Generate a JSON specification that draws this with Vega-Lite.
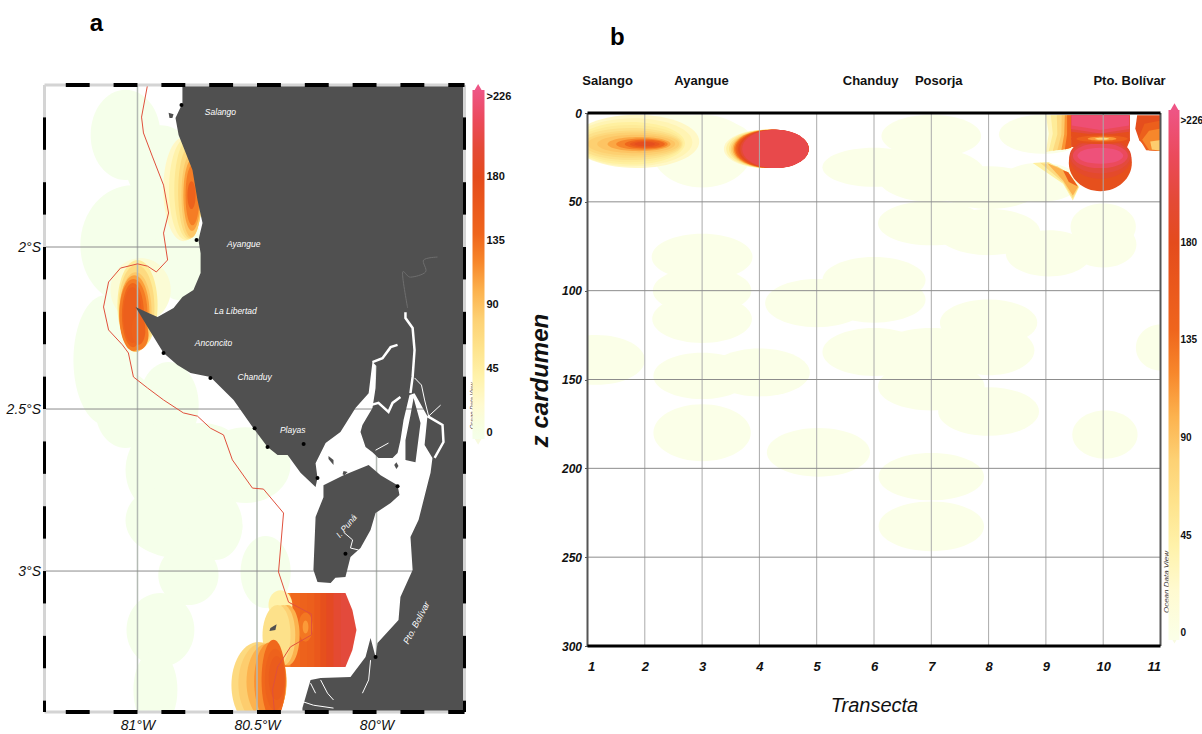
{"$schema":"https://vega.github.io/schema/vega-lite/v6.json","padding":{"left":5.5,"top":12,"right":0,"bottom":0},"background":"white","bounds":"flush","spacing":123,"config":{"view":{"stroke":null}},"resolve":{"scale":{"fill":"independent"},"legend":{"fill":"independent"}},
"datasets":{
"ap":[{"g":1,"x":-80.904,"y":-1.654},{"g":1,"x":-81.05,"y":-1.793},{"g":1,"x":-81.196,"y":-1.654},{"g":1,"x":-81.05,"y":-1.515},
{"g":2,"x":-80.803,"y":-1.994},{"g":2,"x":-81.021,"y":-2.179},{"g":2,"x":-81.239,"y":-1.994},{"g":2,"x":-81.021,"y":-1.809},
{"g":3,"x":-80.758,"y":-1.747},{"g":3,"x":-80.904,"y":-1.87},{"g":3,"x":-81.05,"y":-1.747},{"g":3,"x":-80.904,"y":-1.624},
{"g":4,"x":-80.723,"y":-2.025},{"g":4,"x":-80.828,"y":-2.164},{"g":4,"x":-80.933,"y":-2.025},{"g":4,"x":-80.828,"y":-1.886},
{"g":5,"x":-81.0,"y":-2.349},{"g":5,"x":-81.134,"y":-2.549},{"g":5,"x":-81.268,"y":-2.349},{"g":5,"x":-81.134,"y":-2.149},
{"g":6,"x":-80.744,"y":-2.488},{"g":6,"x":-80.87,"y":-2.621},{"g":6,"x":-80.996,"y":-2.488},{"g":6,"x":-80.87,"y":-2.355},
{"g":7,"x":-80.924,"y":-2.503},{"g":7,"x":-81.05,"y":-2.62},{"g":7,"x":-81.176,"y":-2.503},{"g":7,"x":-81.05,"y":-2.386},
{"g":8,"x":-80.716,"y":-2.688},{"g":8,"x":-80.883,"y":-2.827},{"g":8,"x":-81.05,"y":-2.688},{"g":8,"x":-80.883,"y":-2.549},
{"g":9,"x":-80.36,"y":-2.673},{"g":9,"x":-80.548,"y":-2.79},{"g":9,"x":-80.736,"y":-2.673},{"g":9,"x":-80.548,"y":-2.556},
{"g":10,"x":-80.527,"y":-2.673},{"g":10,"x":-80.736,"y":-2.803},{"g":10,"x":-80.945,"y":-2.673},{"g":10,"x":-80.736,"y":-2.543},
{"g":11,"x":-80.561,"y":-2.864},{"g":11,"x":-80.799,"y":-2.963},{"g":11,"x":-81.037,"y":-2.864},{"g":11,"x":-80.799,"y":-2.765},
{"g":16,"x":-80.758,"y":-2.843},{"g":16,"x":-80.904,"y":-2.942},{"g":16,"x":-81.05,"y":-2.843},{"g":16,"x":-80.904,"y":-2.744},
{"g":17,"x":-80.561,"y":-2.858},{"g":17,"x":-80.674,"y":-2.966},{"g":17,"x":-80.787,"y":-2.858},{"g":17,"x":-80.674,"y":-2.75},
{"g":12,"x":-80.661,"y":-3.012},{"g":12,"x":-80.787,"y":-3.105},{"g":12,"x":-80.913,"y":-3.012},{"g":12,"x":-80.787,"y":-2.919},
{"g":13,"x":-80.762,"y":-3.182},{"g":13,"x":-80.904,"y":-3.296},{"g":13,"x":-81.046,"y":-3.182},{"g":13,"x":-80.904,"y":-3.068},
{"g":14,"x":-80.833,"y":-3.367},{"g":14,"x":-80.925,"y":-3.49},{"g":14,"x":-81.017,"y":-3.367},{"g":14,"x":-80.925,"y":-3.244},
{"g":15,"x":-80.359,"y":-3.003},{"g":15,"x":-80.464,"y":-3.114},{"g":15,"x":-80.569,"y":-3.003},{"g":15,"x":-80.464,"y":-2.892}],
"astrip":[{"g":1,"v":122,"x":-80.389,"y":-3.068},{"g":1,"v":122,"x":-80.35,"y":-3.068},{"g":1,"v":122,"x":-80.35,"y":-3.296},{"g":1,"v":122,"x":-80.389,"y":-3.296},
{"g":2,"v":135,"x":-80.36,"y":-3.068},{"g":2,"v":135,"x":-80.31,"y":-3.068},{"g":2,"v":135,"x":-80.31,"y":-3.296},{"g":2,"v":135,"x":-80.36,"y":-3.296},
{"g":3,"v":145,"x":-80.32,"y":-3.068},{"g":3,"v":145,"x":-80.28,"y":-3.068},{"g":3,"v":145,"x":-80.28,"y":-3.296},{"g":3,"v":145,"x":-80.32,"y":-3.296},
{"g":4,"v":150,"x":-80.29,"y":-3.068},{"g":4,"v":150,"x":-80.25,"y":-3.068},{"g":4,"v":150,"x":-80.25,"y":-3.296},{"g":4,"v":150,"x":-80.29,"y":-3.296},
{"g":5,"v":160,"x":-80.26,"y":-3.068},{"g":5,"v":160,"x":-80.225,"y":-3.068},{"g":5,"v":160,"x":-80.225,"y":-3.296},{"g":5,"v":160,"x":-80.26,"y":-3.296},
{"g":6,"v":172,"x":-80.235,"y":-3.068},{"g":6,"v":172,"x":-80.2,"y":-3.068},{"g":6,"v":172,"x":-80.2,"y":-3.296},{"g":6,"v":172,"x":-80.235,"y":-3.296},
{"g":7,"v":184,"x":-80.21,"y":-3.068},{"g":7,"v":184,"x":-80.17,"y":-3.068},{"g":7,"v":184,"x":-80.17,"y":-3.296},{"g":7,"v":184,"x":-80.21,"y":-3.296},
{"g":8,"v":196,"x":-80.18,"y":-3.068},{"g":8,"v":196,"x":-80.14,"y":-3.068},{"g":8,"v":196,"x":-80.14,"y":-3.296},{"g":8,"v":196,"x":-80.18,"y":-3.296},
{"g":9,"v":205,"x":-80.15,"y":-3.068},{"g":9,"v":205,"x":-80.13,"y":-3.068},{"g":9,"v":205,"x":-80.101,"y":-3.12},{"g":9,"v":205,"x":-80.084,"y":-3.182},{"g":9,"v":205,"x":-80.101,"y":-3.244},{"g":9,"v":205,"x":-80.13,"y":-3.296},{"g":9,"v":205,"x":-80.15,"y":-3.296}],
"ah":[{"g":1,"v":15,"x":-80.861,"y":-2.133},{"g":1,"v":15,"x":-80.987,"y":-2.232},{"g":1,"v":15,"x":-81.113,"y":-2.133},{"g":1,"v":15,"x":-80.987,"y":-2.034},
{"g":2,"v":50,"x":-80.916,"y":-2.179},{"g":2,"v":50,"x":-81,"y":-2.318},{"g":2,"v":50,"x":-81.084,"y":-2.179},{"g":2,"v":50,"x":-81,"y":-2.04},
{"g":21,"v":70,"x":-80.929,"y":-2.188},{"g":21,"v":70,"x":-81.004,"y":-2.321},{"g":21,"v":70,"x":-81.079,"y":-2.188},{"g":21,"v":70,"x":-81.004,"y":-2.055},
{"g":3,"v":90,"x":-80.941,"y":-2.201},{"g":3,"v":90,"x":-81.008,"y":-2.324},{"g":3,"v":90,"x":-81.075,"y":-2.201},{"g":3,"v":90,"x":-81.008,"y":-2.078},
{"g":22,"v":108,"x":-80.95,"y":-2.204},{"g":22,"v":108,"x":-81.013,"y":-2.321},{"g":22,"v":108,"x":-81.076,"y":-2.204},{"g":22,"v":108,"x":-81.013,"y":-2.087},
{"g":4,"v":125,"x":-80.958,"y":-2.21},{"g":4,"v":125,"x":-81.017,"y":-2.321},{"g":4,"v":125,"x":-81.076,"y":-2.21},{"g":4,"v":125,"x":-81.017,"y":-2.099},
{"g":5,"v":125,"x":-80.954,"y":-2.272},{"g":5,"v":125,"x":-80.996,"y":-2.318},{"g":5,"v":125,"x":-81.038,"y":-2.272},{"g":5,"v":125,"x":-80.996,"y":-2.226},
{"g":23,"v":138,"x":-80.973,"y":-2.21},{"g":23,"v":138,"x":-81.019,"y":-2.309},{"g":23,"v":138,"x":-81.065,"y":-2.21},{"g":23,"v":138,"x":-81.019,"y":-2.111},
{"g":6,"v":150,"x":-80.983,"y":-2.21},{"g":6,"v":150,"x":-81.021,"y":-2.296},{"g":6,"v":150,"x":-81.059,"y":-2.21},{"g":6,"v":150,"x":-81.021,"y":-2.124},
{"g":7,"v":145,"x":-80.967,"y":-2.256},{"g":7,"v":145,"x":-80.996,"y":-2.302},{"g":7,"v":145,"x":-81.025,"y":-2.256},{"g":7,"v":145,"x":-80.996,"y":-2.21},
{"g":8,"v":25,"x":-80.724,"y":-1.822},{"g":8,"v":25,"x":-80.808,"y":-1.982},{"g":8,"v":25,"x":-80.892,"y":-1.822},{"g":8,"v":25,"x":-80.808,"y":-1.662},
{"g":24,"v":40,"x":-80.726,"y":-1.822},{"g":24,"v":40,"x":-80.797,"y":-1.979},{"g":24,"v":40,"x":-80.868,"y":-1.822},{"g":24,"v":40,"x":-80.797,"y":-1.665},
{"g":9,"v":55,"x":-80.728,"y":-1.822},{"g":9,"v":55,"x":-80.787,"y":-1.976},{"g":9,"v":55,"x":-80.846,"y":-1.822},{"g":9,"v":55,"x":-80.787,"y":-1.668},
{"g":25,"v":72,"x":-80.73,"y":-1.83},{"g":25,"v":72,"x":-80.78,"y":-1.973},{"g":25,"v":72,"x":-80.83,"y":-1.83},{"g":25,"v":72,"x":-80.78,"y":-1.687},
{"g":10,"v":90,"x":-80.732,"y":-1.84},{"g":10,"v":90,"x":-80.774,"y":-1.97},{"g":10,"v":90,"x":-80.816,"y":-1.84},{"g":10,"v":90,"x":-80.774,"y":-1.71},
{"g":26,"v":108,"x":-80.736,"y":-1.84},{"g":26,"v":108,"x":-80.772,"y":-1.95},{"g":26,"v":108,"x":-80.808,"y":-1.84},{"g":26,"v":108,"x":-80.772,"y":-1.73},
{"g":11,"v":125,"x":-80.741,"y":-1.84},{"g":11,"v":125,"x":-80.77,"y":-1.933},{"g":11,"v":125,"x":-80.799,"y":-1.84},{"g":11,"v":125,"x":-80.77,"y":-1.747},
{"g":12,"v":145,"x":-80.757,"y":-1.84},{"g":12,"v":145,"x":-80.774,"y":-1.883},{"g":12,"v":145,"x":-80.791,"y":-1.84},{"g":12,"v":145,"x":-80.774,"y":-1.797},
{"g":13,"v":128,"x":-80.267,"y":-3.173},{"g":13,"v":128,"x":-80.297,"y":-3.218},{"g":13,"v":128,"x":-80.327,"y":-3.173},{"g":13,"v":128,"x":-80.297,"y":-3.128},
{"g":14,"v":110,"x":-80.285,"y":-3.173},{"g":14,"v":110,"x":-80.297,"y":-3.193},{"g":14,"v":110,"x":-80.309,"y":-3.173},{"g":14,"v":110,"x":-80.297,"y":-3.153},
{"g":15,"v":40,"x":-80.352,"y":-3.105},{"g":15,"v":40,"x":-80.402,"y":-3.151},{"g":15,"v":40,"x":-80.452,"y":-3.105},{"g":15,"v":40,"x":-80.402,"y":-3.059},
{"g":27,"v":100,"x":-80.322,"y":-3.198},{"g":27,"v":100,"x":-80.372,"y":-3.291},{"g":27,"v":100,"x":-80.422,"y":-3.198},{"g":27,"v":100,"x":-80.372,"y":-3.105},
{"g":28,"v":80,"x":-80.34,"y":-3.198},{"g":28,"v":80,"x":-80.39,"y":-3.291},{"g":28,"v":80,"x":-80.44,"y":-3.198},{"g":28,"v":80,"x":-80.39,"y":-3.105},
{"g":16,"v":62,"x":-80.36,"y":-3.198},{"g":16,"v":62,"x":-80.414,"y":-3.291},{"g":16,"v":62,"x":-80.477,"y":-3.198},{"g":16,"v":62,"x":-80.414,"y":-3.105},
{"g":17,"v":70,"x":-80.381,"y":-3.352},{"g":17,"v":70,"x":-80.494,"y":-3.485},{"g":17,"v":70,"x":-80.607,"y":-3.352},{"g":17,"v":70,"x":-80.494,"y":-3.219},
{"g":29,"v":85,"x":-80.378,"y":-3.348},{"g":29,"v":85,"x":-80.478,"y":-3.47},{"g":29,"v":85,"x":-80.578,"y":-3.348},{"g":29,"v":85,"x":-80.478,"y":-3.222},
{"g":18,"v":100,"x":-80.376,"y":-3.342},{"g":18,"v":100,"x":-80.46,"y":-3.459},{"g":18,"v":100,"x":-80.544,"y":-3.342},{"g":18,"v":100,"x":-80.46,"y":-3.225},
{"g":30,"v":115,"x":-80.378,"y":-3.34},{"g":30,"v":115,"x":-80.445,"y":-3.46},{"g":30,"v":115,"x":-80.512,"y":-3.34},{"g":30,"v":115,"x":-80.445,"y":-3.22},
{"g":19,"v":135,"x":-80.381,"y":-3.336},{"g":19,"v":135,"x":-80.431,"y":-3.46},{"g":19,"v":135,"x":-80.481,"y":-3.336},{"g":19,"v":135,"x":-80.431,"y":-3.212},
{"g":31,"v":145,"x":-80.381,"y":-3.335},{"g":31,"v":145,"x":-80.424,"y":-3.43},{"g":31,"v":145,"x":-80.467,"y":-3.335},{"g":31,"v":145,"x":-80.424,"y":-3.24},
{"g":20,"v":155,"x":-80.385,"y":-3.33},{"g":20,"v":155,"x":-80.418,"y":-3.398},{"g":20,"v":155,"x":-80.451,"y":-3.33},{"g":20,"v":155,"x":-80.418,"y":-3.262}],
"aland":[{"g":1,"x":-80.812,"y":-1.5},{"g":1,"x":-80.812,"y":-1.556},{"g":1,"x":-80.841,"y":-1.602},{"g":1,"x":-80.828,"y":-1.654},{"g":1,"x":-80.808,"y":-1.691},{"g":1,"x":-80.77,"y":-1.762},{"g":1,"x":-80.749,"y":-1.855},{"g":1,"x":-80.728,"y":-1.926},{"g":1,"x":-80.745,"y":-1.978},{"g":1,"x":-80.736,"y":-2.019},{"g":1,"x":-80.736,"y":-2.08},{"g":1,"x":-80.766,"y":-2.133},{"g":1,"x":-80.812,"y":-2.154},{"g":1,"x":-80.849,"y":-2.188},{"g":1,"x":-80.916,"y":-2.216},{"g":1,"x":-80.954,"y":-2.204},{"g":1,"x":-81.008,"y":-2.185},{"g":1,"x":-80.958,"y":-2.247},{"g":1,"x":-80.891,"y":-2.327},{"g":1,"x":-80.833,"y":-2.364},{"g":1,"x":-80.778,"y":-2.389},{"g":1,"x":-80.695,"y":-2.401},{"g":1,"x":-80.598,"y":-2.472},{"g":1,"x":-80.515,"y":-2.559},{"g":1,"x":-80.456,"y":-2.617},{"g":1,"x":-80.414,"y":-2.642},{"g":1,"x":-80.372,"y":-2.642},{"g":1,"x":-80.318,"y":-2.697},{"g":1,"x":-80.255,"y":-2.741},{"g":1,"x":-80.247,"y":-2.713},{"g":1,"x":-80.255,"y":-2.667},{"g":1,"x":-80.213,"y":-2.605},{"g":1,"x":-80.151,"y":-2.571},{"g":1,"x":-80.088,"y":-2.497},{"g":1,"x":-80.033,"y":-2.451},{"g":1,"x":-80.017,"y":-2.355},{"g":1,"x":-80,"y":-2.367},{"g":1,"x":-80.004,"y":-2.435},{"g":1,"x":-80.017,"y":-2.497},{"g":1,"x":-80.059,"y":-2.549},{"g":1,"x":-80.067,"y":-2.571},{"g":1,"x":-80.046,"y":-2.617},{"g":1,"x":-80.017,"y":-2.633},{"g":1,"x":-79.992,"y":-2.651},{"g":1,"x":-79.933,"y":-2.651},{"g":1,"x":-79.912,"y":-2.636},{"g":1,"x":-79.9,"y":-2.596},{"g":1,"x":-79.887,"y":-2.534},{"g":1,"x":-79.862,"y":-2.457},{"g":1,"x":-79.841,"y":-2.451},{"g":1,"x":-79.787,"y":-2.522},{"g":1,"x":-79.799,"y":-2.611},{"g":1,"x":-79.766,"y":-2.651},{"g":1,"x":-79.774,"y":-2.697},{"g":1,"x":-79.782,"y":-2.719},{"g":1,"x":-79.824,"y":-2.842},{"g":1,"x":-79.858,"y":-2.895},{"g":1,"x":-79.849,"y":-2.997},{"g":1,"x":-79.9,"y":-3.08},{"g":1,"x":-79.908,"y":-3.151},{"g":1,"x":-79.996,"y":-3.222},{"g":1,"x":-80.004,"y":-3.265},{"g":1,"x":-80.025,"y":-3.207},{"g":1,"x":-80.046,"y":-3.265},{"g":1,"x":-80.109,"y":-3.327},{"g":1,"x":-80.234,"y":-3.33},{"g":1,"x":-80.276,"y":-3.336},{"g":1,"x":-80.31,"y":-3.423},{"g":1,"x":-80.31,"y":-3.435},{"g":1,"x":-79.632,"y":-3.435},{"g":1,"x":-79.632,"y":-1.5},
{"g":2,"x":-80.222,"y":-2.735},{"g":2,"x":-80.138,"y":-2.704},{"g":2,"x":-80.033,"y":-2.673},{"g":2,"x":-79.983,"y":-2.704},{"g":2,"x":-79.912,"y":-2.735},{"g":2,"x":-79.904,"y":-2.765},{"g":2,"x":-79.941,"y":-2.79},{"g":2,"x":-80.004,"y":-2.821},{"g":2,"x":-80.025,"y":-2.873},{"g":2,"x":-80.067,"y":-2.929},{"g":2,"x":-80.109,"y":-2.957},{"g":2,"x":-80.13,"y":-3.018},{"g":2,"x":-80.172,"y":-3.021},{"g":2,"x":-80.192,"y":-3.037},{"g":2,"x":-80.247,"y":-3.034},{"g":2,"x":-80.264,"y":-2.997},{"g":2,"x":-80.255,"y":-2.833},{"g":2,"x":-80.222,"y":-2.772},
{"g":3,"x":-79.845,"y":-2.466},{"g":3,"x":-79.816,"y":-2.543},{"g":3,"x":-79.837,"y":-2.664},{"g":3,"x":-79.879,"y":-2.657},{"g":3,"x":-79.879,"y":-2.596},{"g":3,"x":-79.858,"y":-2.519},
{"g":4,"x":-80.201,"y":-2.645},{"g":4,"x":-80.18,"y":-2.657},{"g":4,"x":-80.18,"y":-2.673},{"g":4,"x":-80.201,"y":-2.654},
{"g":5,"x":-80.138,"y":-2.691},{"g":5,"x":-80.121,"y":-2.694},{"g":5,"x":-80.134,"y":-2.704},{"g":5,"x":-80.142,"y":-2.701},
{"g":6,"x":-79.917,"y":-2.664},{"g":6,"x":-79.908,"y":-2.676},{"g":6,"x":-79.917,"y":-2.685},{"g":6,"x":-79.926,"y":-2.673},
{"g":7,"x":-80.444,"y":-3.176},{"g":7,"x":-80.418,"y":-3.164},{"g":7,"x":-80.423,"y":-3.182},{"g":7,"x":-80.448,"y":-3.185},
{"g":8,"x":-80.87,"y":-1.586},{"g":8,"x":-80.849,"y":-1.59},{"g":8,"x":-80.854,"y":-1.602},{"g":8,"x":-80.866,"y":-1.602}],
"rthick":[{"g":1,"x":-79.879,"y":-2.201},{"g":1,"x":-79.879,"y":-2.219},{"g":1,"x":-79.849,"y":-2.25},{"g":1,"x":-79.841,"y":-2.318},{"g":1,"x":-79.849,"y":-2.401},{"g":1,"x":-79.858,"y":-2.451},
{"g":2,"x":-80.017,"y":-2.355},{"g":2,"x":-79.975,"y":-2.343},{"g":2,"x":-79.941,"y":-2.309},{"g":2,"x":-79.912,"y":-2.302},
{"g":3,"x":-80.025,"y":-2.488},{"g":3,"x":-79.992,"y":-2.481},{"g":3,"x":-79.95,"y":-2.509},{"g":3,"x":-79.933,"y":-2.481},{"g":3,"x":-79.9,"y":-2.463},
{"g":4,"x":-79.787,"y":-2.522},{"g":4,"x":-79.724,"y":-2.549},{"g":4,"x":-79.72,"y":-2.602},{"g":4,"x":-79.757,"y":-2.651}],
"rthin":[{"g":1,"x":-79.841,"y":-2.404},{"g":1,"x":-79.812,"y":-2.426},{"g":1,"x":-79.799,"y":-2.472},{"g":1,"x":-79.782,"y":-2.522},
{"g":2,"x":-79.782,"y":-2.522},{"g":2,"x":-79.732,"y":-2.488},
{"g":3,"x":-80.004,"y":-2.627},{"g":3,"x":-79.95,"y":-2.605},
{"g":4,"x":-80.138,"y":-2.88},{"g":4,"x":-80.1,"y":-2.904},{"g":4,"x":-80.109,"y":-2.929},{"g":4,"x":-80.075,"y":-2.935},
{"g":5,"x":-80.276,"y":-3.346},{"g":5,"x":-80.255,"y":-3.377},
{"g":6,"x":-80.305,"y":-3.404},{"g":6,"x":-80.264,"y":-3.414},{"g":6,"x":-80.18,"y":-3.423},
{"g":7,"x":-80.025,"y":-3.275},{"g":7,"x":-80.033,"y":-3.336},{"g":7,"x":-80.059,"y":-3.377},
{"g":8,"x":-80.234,"y":-3.336},{"g":8,"x":-80.205,"y":-3.377},{"g":8,"x":-80.18,"y":-3.398}],
"rgray":[{"x":-79.87,"y":-2.188},{"x":-79.891,"y":-2.08},{"x":-79.858,"y":-2.093},{"x":-79.795,"y":-2.077},{"x":-79.803,"y":-2.04},{"x":-79.745,"y":-2.031}],
"redline":[{"x":-80.958,"y":-1.5},{"x":-80.983,"y":-1.599},{"x":-80.975,"y":-1.648},{"x":-80.937,"y":-1.722},{"x":-80.891,"y":-1.809},{"x":-80.87,"y":-1.895},{"x":-80.891,"y":-1.957},{"x":-80.874,"y":-2.04},{"x":-80.921,"y":-2.077},{"x":-80.958,"y":-2.059},{"x":-81,"y":-2.052},{"x":-81.071,"y":-2.065},{"x":-81.121,"y":-2.108},{"x":-81.142,"y":-2.185},{"x":-81.121,"y":-2.256},{"x":-81.063,"y":-2.302},{"x":-81.038,"y":-2.327},{"x":-81.017,"y":-2.401},{"x":-80.958,"y":-2.435},{"x":-80.891,"y":-2.472},{"x":-80.808,"y":-2.512},{"x":-80.749,"y":-2.522},{"x":-80.695,"y":-2.559},{"x":-80.64,"y":-2.58},{"x":-80.603,"y":-2.657},{"x":-80.519,"y":-2.744},{"x":-80.473,"y":-2.747},{"x":-80.389,"y":-2.821},{"x":-80.41,"y":-3.003},{"x":-80.381,"y":-3.068},{"x":-80.368,"y":-3.096},{"x":-80.272,"y":-3.133},{"x":-80.272,"y":-3.197},{"x":-80.36,"y":-3.234},{"x":-80.414,"y":-3.296},{"x":-80.435,"y":-3.367},{"x":-80.427,"y":-3.435}],
"towns":[{"x":-80.816,"y":-1.562},{"x":-80.753,"y":-1.978},{"x":-80.891,"y":-2.327},{"x":-80.695,"y":-2.404},{"x":-80.51,"y":-2.559},{"x":-80.456,"y":-2.617},{"x":-80.305,"y":-2.608},{"x":-80.247,"y":-2.713},{"x":-79.912,"y":-2.738},{"x":-80.13,"y":-2.947},{"x":-80.004,"y":-3.265}],
"aname":[{"x":-80.653,"y":-1.583,"t":"Salango"},{"x":-80.556,"y":-1.991,"t":"Ayangue"},{"x":-80.59,"y":-2.198,"t":"La Libertad"},{"x":-80.682,"y":-2.296,"t":"Anconcito"},{"x":-80.51,"y":-2.401,"t":"Chanduy"},{"x":-80.351,"y":-2.565,"t":"Playas"}],
"alon":[{"x":-81,"y":-1.5,"y2":-3.435},{"x":-80.5,"y":-1.5,"y2":-3.435},{"x":-80,"y":-1.5,"y2":-3.435}],
"alat":[{"y":-2,"x":-81.389,"x2":-79.632},{"y":-2.5,"x":-81.389,"x2":-79.632},{"y":-3,"x":-81.389,"x2":-79.632}],
"fh":[{"y":-1.5,"x":-81.389,"x2":-79.632},{"y":-3.435,"x":-81.389,"x2":-79.632}],
"fv":[{"x":-81.389,"y":-1.5,"y2":-3.435},{"x":-79.632,"y":-1.5,"y2":-3.435}],
"dh":[{"y":-1.5,"x":-81.3,"x2":-81.2},{"y":-1.5,"x":-81.1,"x2":-81},{"y":-1.5,"x":-80.9,"x2":-80.8},{"y":-1.5,"x":-80.7,"x2":-80.6},{"y":-1.5,"x":-80.5,"x2":-80.4},{"y":-1.5,"x":-80.3,"x2":-80.2},{"y":-1.5,"x":-80.1,"x2":-80},{"y":-1.5,"x":-79.9,"x2":-79.8},{"y":-1.5,"x":-79.7,"x2":-79.632},
{"y":-3.435,"x":-81.3,"x2":-81.2},{"y":-3.435,"x":-81.1,"x2":-81},{"y":-3.435,"x":-80.9,"x2":-80.8},{"y":-3.435,"x":-80.7,"x2":-80.6},{"y":-3.435,"x":-80.5,"x2":-80.4},{"y":-3.435,"x":-80.3,"x2":-80.2},{"y":-3.435,"x":-80.1,"x2":-80},{"y":-3.435,"x":-79.9,"x2":-79.8},{"y":-3.435,"x":-79.7,"x2":-79.632}],
"dv":[{"x":-81.389,"y":-1.6,"y2":-1.7},{"x":-81.389,"y":-1.8,"y2":-1.9},{"x":-81.389,"y":-2,"y2":-2.1},{"x":-81.389,"y":-2.2,"y2":-2.3},{"x":-81.389,"y":-2.4,"y2":-2.5},{"x":-81.389,"y":-2.6,"y2":-2.7},{"x":-81.389,"y":-2.8,"y2":-2.9},{"x":-81.389,"y":-3,"y2":-3.1},{"x":-81.389,"y":-3.2,"y2":-3.3},{"x":-81.389,"y":-3.4,"y2":-3.435},
{"x":-79.632,"y":-1.6,"y2":-1.7},{"x":-79.632,"y":-1.8,"y2":-1.9},{"x":-79.632,"y":-2,"y2":-2.1},{"x":-79.632,"y":-2.2,"y2":-2.3},{"x":-79.632,"y":-2.4,"y2":-2.5},{"x":-79.632,"y":-2.6,"y2":-2.7},{"x":-79.632,"y":-2.8,"y2":-2.9},{"x":-79.632,"y":-3,"y2":-3.1},{"x":-79.632,"y":-3.2,"y2":-3.3},{"x":-79.632,"y":-3.4,"y2":-3.435}],
"bp":[{"g":1,"x":2,"y":139},{"g":1,"x":1.15,"y":153},{"g":1,"x":0.3,"y":139},{"g":1,"x":1.15,"y":125},
{"g":2,"x":3.88,"y":81},{"g":2,"x":3,"y":94},{"g":2,"x":2.12,"y":81},{"g":2,"x":3,"y":68},
{"g":3,"x":3.86,"y":100},{"g":3,"x":3,"y":113},{"g":3,"x":2.14,"y":100},{"g":3,"x":3,"y":87},
{"g":4,"x":3.87,"y":116},{"g":4,"x":3,"y":129.5},{"g":4,"x":2.13,"y":116},{"g":4,"x":3,"y":102.5},
{"g":5,"x":3.85,"y":148},{"g":5,"x":3,"y":161},{"g":5,"x":2.15,"y":148},{"g":5,"x":3,"y":135},
{"g":6,"x":4.88,"y":146},{"g":6,"x":4,"y":159.5},{"g":6,"x":3.12,"y":146},{"g":6,"x":4,"y":132.5},
{"g":7,"x":3.85,"y":180},{"g":7,"x":3,"y":196},{"g":7,"x":2.15,"y":180},{"g":7,"x":3,"y":164},
{"g":8,"x":5.93,"y":191},{"g":8,"x":5.03,"y":204.7},{"g":8,"x":4.13,"y":191},{"g":8,"x":5.03,"y":177.3},
{"g":9,"x":5.9,"y":107},{"g":9,"x":5,"y":120.6},{"g":9,"x":4.1,"y":107},{"g":9,"x":5,"y":93.4},
{"g":10,"x":6.9,"y":94},{"g":10,"x":6,"y":107},{"g":10,"x":5.1,"y":94},{"g":10,"x":6,"y":81},
{"g":11,"x":6.9,"y":105},{"g":11,"x":6,"y":118},{"g":11,"x":5.1,"y":105},{"g":11,"x":6,"y":92},
{"g":12,"x":6.9,"y":134.5},{"g":12,"x":6,"y":148},{"g":12,"x":5.1,"y":134.5},{"g":12,"x":6,"y":121},
{"g":13,"x":7.93,"y":154},{"g":13,"x":7,"y":167.5},{"g":13,"x":6.07,"y":154},{"g":13,"x":7,"y":140.5},
{"g":14,"x":7.95,"y":134},{"g":14,"x":7,"y":147},{"g":14,"x":6.05,"y":134},{"g":14,"x":7,"y":121},
{"g":15,"x":8.85,"y":118},{"g":15,"x":8,"y":131},{"g":15,"x":7.15,"y":118},{"g":15,"x":8,"y":105},
{"g":16,"x":8.8,"y":133.6},{"g":16,"x":8,"y":147.6},{"g":16,"x":7.2,"y":133.6},{"g":16,"x":8,"y":119.6},
{"g":17,"x":8.88,"y":168},{"g":17,"x":8,"y":181.7},{"g":17,"x":7.12,"y":168},{"g":17,"x":8,"y":154.3},
{"g":18,"x":10.6,"y":181},{"g":18,"x":10.03,"y":194.6},{"g":18,"x":9.46,"y":181},{"g":18,"x":10.03,"y":167.4},
{"g":19,"x":11.43,"y":132},{"g":19,"x":11,"y":145},{"g":19,"x":10.57,"y":132},{"g":19,"x":11,"y":119},
{"g":20,"x":7.92,"y":204.7},{"g":20,"x":7,"y":218},{"g":20,"x":6.08,"y":204.7},{"g":20,"x":7,"y":191.4},
{"g":21,"x":7.92,"y":232.6},{"g":21,"x":7,"y":246.6},{"g":21,"x":6.08,"y":232.6},{"g":21,"x":7,"y":218.6},
{"g":22,"x":3.88,"y":21},{"g":22,"x":3,"y":42},{"g":22,"x":2.12,"y":21},{"g":22,"x":3,"y":1},
{"g":23,"x":3.83,"y":13},{"g":23,"x":2.5,"y":25},{"g":23,"x":1.17,"y":13},{"g":23,"x":2.5,"y":1},
{"g":24,"x":6.9,"y":30.5},{"g":24,"x":6,"y":41.5},{"g":24,"x":5.1,"y":30.5},{"g":24,"x":6,"y":19.5},
{"g":25,"x":7.87,"y":13},{"g":25,"x":7,"y":25},{"g":25,"x":6.13,"y":13},{"g":25,"x":7,"y":1},
{"g":26,"x":7.95,"y":35},{"g":26,"x":7,"y":50},{"g":26,"x":6.05,"y":35},{"g":26,"x":7,"y":20},
{"g":27,"x":8.9,"y":42},{"g":27,"x":8,"y":54},{"g":27,"x":7.1,"y":42},{"g":27,"x":8,"y":30},
{"g":28,"x":9.6,"y":39},{"g":28,"x":8.9,"y":50},{"g":28,"x":8.2,"y":39},{"g":28,"x":8.9,"y":28},
{"g":29,"x":9.72,"y":12},{"g":29,"x":8.95,"y":23},{"g":29,"x":8.18,"y":12},{"g":29,"x":8.95,"y":1},
{"g":30,"x":7.93,"y":62},{"g":30,"x":7,"y":74.5},{"g":30,"x":6.07,"y":62},{"g":30,"x":7,"y":49.5},
{"g":31,"x":8.9,"y":67},{"g":31,"x":8,"y":80},{"g":31,"x":7.1,"y":67},{"g":31,"x":8,"y":54},
{"g":32,"x":9.8,"y":79},{"g":32,"x":9.05,"y":92},{"g":32,"x":8.3,"y":79},{"g":32,"x":9.05,"y":66},
{"g":33,"x":10.57,"y":64},{"g":33,"x":10,"y":77},{"g":33,"x":9.43,"y":64},{"g":33,"x":10,"y":51},
{"g":34,"x":10.58,"y":74},{"g":34,"x":10,"y":87},{"g":34,"x":9.42,"y":74},{"g":34,"x":10,"y":61}],
"bpoly":[{"g":20,"v":30,"x":9.0,"y":1.3},{"g":20,"v":30,"x":9.436,"y":1.3},{"g":20,"v":30,"x":9.436,"y":19.5},{"g":20,"v":30,"x":9.0,"y":22},{"g":20,"v":30,"x":9.05,"y":11.7},
{"g":1,"v":50,"x":9.086,"y":1.3},{"g":1,"v":50,"x":9.436,"y":1.3},{"g":1,"v":50,"x":9.436,"y":19.5},{"g":1,"v":50,"x":9.05,"y":21.4},{"g":1,"v":50,"x":9.12,"y":11.7},
{"g":21,"v":70,"x":9.19,"y":1.3},{"g":21,"v":70,"x":9.44,"y":1.3},{"g":21,"v":70,"x":9.44,"y":19.5},{"g":21,"v":70,"x":9.12,"y":21.2},{"g":21,"v":70,"x":9.2,"y":12},
{"g":2,"v":90,"x":9.275,"y":1.3},{"g":2,"v":90,"x":9.44,"y":1.3},{"g":2,"v":90,"x":9.44,"y":19.5},{"g":2,"v":90,"x":9.2,"y":21},{"g":2,"v":90,"x":9.27,"y":12},
{"g":22,"v":112,"x":9.33,"y":1.3},{"g":22,"v":112,"x":9.44,"y":1.3},{"g":22,"v":112,"x":9.44,"y":19.5},{"g":22,"v":112,"x":9.27,"y":20.8},{"g":22,"v":112,"x":9.32,"y":12},
{"g":3,"v":135,"x":9.37,"y":1.3},{"g":3,"v":135,"x":9.44,"y":1.3},{"g":3,"v":135,"x":9.44,"y":19.5},{"g":3,"v":135,"x":9.33,"y":20.5},{"g":3,"v":135,"x":9.37,"y":12},
{"g":4,"v":45,"x":8.77,"y":28.2},{"g":4,"v":45,"x":9.05,"y":27.6},{"g":4,"v":45,"x":9.4,"y":34.2},{"g":4,"v":45,"x":9.58,"y":41.7},{"g":4,"v":45,"x":9.47,"y":49.2},{"g":4,"v":45,"x":9.3,"y":39.8},
{"g":23,"v":70,"x":8.9,"y":28},{"g":23,"v":70,"x":9.2,"y":30},{"g":23,"v":70,"x":9.39,"y":33.8},{"g":23,"v":70,"x":9.57,"y":41.7},{"g":23,"v":70,"x":9.47,"y":48},{"g":23,"v":70,"x":9.3,"y":39},
{"g":5,"v":100,"x":9.02,"y":28.2},{"g":5,"v":100,"x":9.39,"y":33.3},{"g":5,"v":100,"x":9.56,"y":41.7},{"g":5,"v":100,"x":9.47,"y":46.4},{"g":5,"v":100,"x":9.3,"y":38},
{"g":6,"v":150,"x":9.3,"y":32.3},{"g":6,"v":150,"x":9.39,"y":33.3},{"g":6,"v":150,"x":9.56,"y":41.4},{"g":6,"v":150,"x":9.4,"y":38.9},
{"g":7,"v":175,"x":9.436,"y":1.3},{"g":7,"v":175,"x":10.467,"y":1.3},{"g":7,"v":175,"x":10.467,"y":15.4},{"g":7,"v":175,"x":10.418,"y":19.2},{"g":7,"v":175,"x":9.44,"y":19.2},
{"g":8,"v":205,"x":9.44,"y":1.3},{"g":8,"v":205,"x":10.46,"y":1.3},{"g":8,"v":205,"x":10.46,"y":10.5},{"g":8,"v":205,"x":9.95,"y":12.5},{"g":8,"v":205,"x":9.44,"y":10.5},
{"g":24,"v":218,"x":9.44,"y":1.3},{"g":24,"v":218,"x":10.46,"y":1.3},{"g":24,"v":218,"x":10.46,"y":9},{"g":24,"v":218,"x":9.95,"y":11.5},{"g":24,"v":218,"x":9.44,"y":9},
{"g":9,"v":232,"x":9.45,"y":1.3},{"g":9,"v":232,"x":10.45,"y":1.3},{"g":9,"v":232,"x":10.45,"y":7},{"g":9,"v":232,"x":9.95,"y":9.5},{"g":9,"v":232,"x":9.45,"y":7},
{"g":10,"v":175,"x":10.593,"y":1.3},{"g":10,"v":175,"x":11.05,"y":1.3},{"g":10,"v":175,"x":11.05,"y":21.4},{"g":10,"v":175,"x":10.8,"y":21},{"g":10,"v":175,"x":10.63,"y":15.4},{"g":10,"v":175,"x":10.56,"y":8.8},
{"g":25,"v":150,"x":11.05,"y":4},{"g":25,"v":150,"x":11.05,"y":21.4},{"g":25,"v":150,"x":10.75,"y":21},{"g":25,"v":150,"x":10.62,"y":14},{"g":25,"v":150,"x":10.72,"y":6},
{"g":11,"v":120,"x":11.05,"y":8.5},{"g":11,"v":120,"x":11.05,"y":21.4},{"g":11,"v":120,"x":10.8,"y":20.8},{"g":11,"v":120,"x":10.68,"y":15},{"g":11,"v":120,"x":10.8,"y":10},
{"g":12,"v":85,"x":11.05,"y":15},{"g":12,"v":85,"x":11.05,"y":21.4},{"g":12,"v":85,"x":10.85,"y":20.5},{"g":12,"v":85,"x":10.82,"y":16}],
"bh":[{"g":1,"v":25,"x":2.95,"y":16},{"g":1,"v":25,"x":1.85,"y":31},{"g":1,"v":25,"x":0.75,"y":16},{"g":1,"v":25,"x":1.85,"y":1},
{"g":101,"v":35,"x":2.83,"y":16.5},{"g":101,"v":35,"x":1.8,"y":30},{"g":101,"v":35,"x":0.77,"y":16.5},{"g":101,"v":35,"x":1.8,"y":3},
{"g":2,"v":45,"x":2.7,"y":17},{"g":2,"v":45,"x":1.75,"y":29},{"g":2,"v":45,"x":0.8,"y":17},{"g":2,"v":45,"x":1.75,"y":5},
{"g":102,"v":52,"x":2.67,"y":17.2},{"g":102,"v":52,"x":1.75,"y":27.7},{"g":102,"v":52,"x":0.83,"y":17.2},{"g":102,"v":52,"x":1.75,"y":6.7},
{"g":3,"v":62,"x":2.65,"y":17.5},{"g":3,"v":62,"x":1.75,"y":26.5},{"g":3,"v":62,"x":0.85,"y":17.5},{"g":3,"v":62,"x":1.75,"y":8.5},
{"g":103,"v":72,"x":2.63,"y":17.5},{"g":103,"v":72,"x":1.78,"y":25.2},{"g":103,"v":72,"x":0.93,"y":17.5},{"g":103,"v":72,"x":1.78,"y":9.8},
{"g":4,"v":82,"x":2.6,"y":17.5},{"g":4,"v":82,"x":1.8,"y":24},{"g":4,"v":82,"x":1,"y":17.5},{"g":4,"v":82,"x":1.8,"y":11},
{"g":104,"v":92,"x":2.53,"y":17.5},{"g":104,"v":92,"x":1.85,"y":22.7},{"g":104,"v":92,"x":1.17,"y":17.5},{"g":104,"v":92,"x":1.85,"y":12.3},
{"g":5,"v":105,"x":2.45,"y":17.5},{"g":5,"v":105,"x":1.9,"y":21.5},{"g":5,"v":105,"x":1.35,"y":17.5},{"g":5,"v":105,"x":1.9,"y":13.5},
{"g":105,"v":122,"x":2.4,"y":17.5},{"g":105,"v":122,"x":1.95,"y":20.7},{"g":105,"v":122,"x":1.5,"y":17.5},{"g":105,"v":122,"x":1.95,"y":14.3},
{"g":6,"v":138,"x":2.35,"y":17.5},{"g":6,"v":138,"x":2,"y":20},{"g":6,"v":138,"x":1.65,"y":17.5},{"g":6,"v":138,"x":2,"y":15},
{"g":106,"v":160,"x":2.26,"y":17.5},{"g":106,"v":160,"x":2,"y":19.3},{"g":106,"v":160,"x":1.74,"y":17.5},{"g":106,"v":160,"x":2,"y":15.7},
{"g":7,"v":175,"x":2.18,"y":17.5},{"g":7,"v":175,"x":2,"y":18.7},{"g":7,"v":175,"x":1.82,"y":17.5},{"g":7,"v":175,"x":2,"y":16.3},
{"g":8,"v":25,"x":4.86,"y":20.2},{"g":8,"v":25,"x":4.12,"y":31},{"g":8,"v":25,"x":3.38,"y":20.2},{"g":8,"v":25,"x":4.12,"y":9.4},
{"g":107,"v":42,"x":4.86,"y":20.2},{"g":107,"v":42,"x":4.14,"y":31},{"g":107,"v":42,"x":3.42,"y":20.2},{"g":107,"v":42,"x":4.14,"y":9.4},
{"g":9,"v":60,"x":4.86,"y":20.2},{"g":9,"v":60,"x":4.165,"y":31},{"g":9,"v":60,"x":3.47,"y":20.2},{"g":9,"v":60,"x":4.165,"y":9.4},
{"g":108,"v":80,"x":4.86,"y":20.2},{"g":108,"v":80,"x":4.18,"y":31},{"g":108,"v":80,"x":3.5,"y":20.2},{"g":108,"v":80,"x":4.18,"y":9.4},
{"g":10,"v":100,"x":4.86,"y":20.2},{"g":10,"v":100,"x":4.195,"y":31},{"g":10,"v":100,"x":3.53,"y":20.2},{"g":10,"v":100,"x":4.195,"y":9.4},
{"g":109,"v":120,"x":4.86,"y":20.2},{"g":109,"v":120,"x":4.208,"y":31},{"g":109,"v":120,"x":3.555,"y":20.2},{"g":109,"v":120,"x":4.208,"y":9.4},
{"g":11,"v":140,"x":4.86,"y":20.2},{"g":11,"v":140,"x":4.22,"y":31},{"g":11,"v":140,"x":3.58,"y":20.2},{"g":11,"v":140,"x":4.22,"y":9.4},
{"g":110,"v":160,"x":4.86,"y":20.2},{"g":110,"v":160,"x":4.232,"y":31},{"g":110,"v":160,"x":3.605,"y":20.2},{"g":110,"v":160,"x":4.232,"y":9.4},
{"g":12,"v":180,"x":4.86,"y":20.2},{"g":12,"v":180,"x":4.245,"y":31},{"g":12,"v":180,"x":3.63,"y":20.2},{"g":12,"v":180,"x":4.245,"y":9.4},
{"g":111,"v":198,"x":4.86,"y":20.2},{"g":111,"v":198,"x":4.262,"y":31},{"g":111,"v":198,"x":3.665,"y":20.2},{"g":111,"v":198,"x":4.262,"y":9.4},
{"g":13,"v":212,"x":4.86,"y":20.2},{"g":13,"v":212,"x":4.28,"y":31},{"g":13,"v":212,"x":3.7,"y":20.2},{"g":13,"v":212,"x":4.28,"y":9.4},
{"g":120,"v":172,"x":10.5,"y":28},{"g":120,"v":172,"x":9.95,"y":44},{"g":120,"v":172,"x":9.4,"y":28},{"g":120,"v":172,"x":9.95,"y":12},
{"g":14,"v":190,"x":10.49,"y":25},{"g":14,"v":190,"x":9.95,"y":37},{"g":14,"v":190,"x":9.41,"y":25},{"g":14,"v":190,"x":9.95,"y":14},
{"g":15,"v":205,"x":10.47,"y":24.5},{"g":15,"v":205,"x":9.95,"y":34},{"g":15,"v":205,"x":9.43,"y":24.5},{"g":15,"v":205,"x":9.95,"y":15.5},
{"g":121,"v":220,"x":10.43,"y":24},{"g":121,"v":220,"x":9.95,"y":31},{"g":121,"v":220,"x":9.47,"y":24},{"g":121,"v":220,"x":9.95,"y":17},
{"g":16,"v":235,"x":10.35,"y":24},{"g":16,"v":235,"x":9.95,"y":28.5},{"g":16,"v":235,"x":9.55,"y":24},{"g":16,"v":235,"x":9.95,"y":19.5},
{"g":122,"v":175,"x":10.46,"y":14.5},{"g":122,"v":175,"x":9.95,"y":17.5},{"g":122,"v":175,"x":9.44,"y":14.5},{"g":122,"v":175,"x":9.95,"y":11.5},
{"g":17,"v":150,"x":10.43,"y":14.5},{"g":17,"v":150,"x":9.98,"y":16.4},{"g":17,"v":150,"x":9.53,"y":14.5},{"g":17,"v":150,"x":9.98,"y":12.6},
{"g":18,"v":110,"x":10.23,"y":14.5},{"g":18,"v":110,"x":9.98,"y":15.6},{"g":18,"v":110,"x":9.73,"y":14.5},{"g":18,"v":110,"x":9.98,"y":13.4},
{"g":19,"v":70,"x":10.1,"y":14.5},{"g":19,"v":70,"x":9.98,"y":15.1},{"g":19,"v":70,"x":9.86,"y":14.5},{"g":19,"v":70,"x":9.98,"y":13.9}],
"bvert":[{"x":1,"y":0,"y2":300},{"x":2,"y":0,"y2":300},{"x":3,"y":0,"y2":300},{"x":4,"y":0,"y2":300},{"x":5,"y":0,"y2":300},{"x":6,"y":0,"y2":300},{"x":7,"y":0,"y2":300},{"x":8,"y":0,"y2":300},{"x":9,"y":0,"y2":300},{"x":10,"y":0,"y2":300},{"x":11,"y":0,"y2":300}],
"bhor":[{"y":50,"x":1,"x2":11},{"y":100,"x":1,"x2":11},{"y":150,"x":1,"x2":11},{"y":200,"x":1,"x2":11},{"y":250,"x":1,"x2":11}],
"bedgeh":[{"y":0,"x":1,"x2":11},{"y":300,"x":1,"x2":11}],
"bedgev":[{"x":1,"y":0,"y2":300},{"x":11,"y":0,"y2":300}],
"bname":[{"x":1.35,"y":-18,"t":"Salango"},{"x":2.99,"y":-18,"t":"Ayangue"},{"x":5.94,"y":-18,"t":"Chanduy"},{"x":7.13,"y":-18,"t":"Posorja"},{"x":10.46,"y":-18,"t":"Pto. Bolívar"}]
},
"hconcat":[
{"width":420,"height":627,
"encoding":{"x":{"field":"x","type":"quantitative","title":null,"scale":{"domain":[-81.389,-79.632],"nice":false,"zero":false},"axis":{"values":[-81,-80.5,-80],"labelExpr":"datum.value==-81?'81°W':datum.value==-80?'80°W':'80.5°W'","ticks":false,"domain":false,"grid":false,"labelFont":"Liberation Sans","labelFontStyle":"italic","labelFontSize":14,"labelColor":"#111","labelPadding":6}},
"y":{"field":"y","type":"quantitative","title":null,"scale":{"domain":[-3.435,-1.5],"nice":false,"zero":false},"axis":{"values":[-2,-2.5,-3],"labelExpr":"datum.value==-2?'2°S':datum.value==-3?'3°S':'2.5°S'","ticks":false,"domain":false,"grid":false,"labelFont":"Liberation Sans","labelFontStyle":"italic","labelFontSize":14,"labelColor":"#111","labelPadding":4}}},
"layer":[
{"data":{"name":"ap"},"mark":{"type":"line","interpolate":"cardinal-closed","tension":-0.66,"fill":"#f5ffea","stroke":null,"order":null,"clip":true},"encoding":{"detail":{"field":"g"}}},
{"data":{"name":"astrip"},"mark":{"type":"line","stroke":null,"order":null,"clip":true},"encoding":{"detail":{"field":"g"},"fill":{"field":"v","type":"quantitative","scale":{"domain":[-4,20,45,90,110,135,180,205,241],"range":["#f5ffea","#fffad0","#fff0a0","#fdc868","#fb9a38","#f0681c","#e44b1d","#e34a3c","#ee5585"]},"legend":{"title":null,"orient":"none","legendX":428,"legendY":5,"gradientLength":349,"gradientThickness":12,"values":[0,45,90,135,180,236],"labelExpr":"datum.value>200?'>226':datum.label","labelFont":"Liberation Sans","labelFontWeight":"bold","labelFontSize":11,"labelColor":"#111","labelOverlap":false,"gradientStrokeWidth":0,"labelOffset":2}}}},
{"data":{"name":"ah"},"mark":{"type":"line","interpolate":"cardinal-closed","tension":-0.66,"stroke":null,"order":null,"clip":true},"encoding":{"detail":{"field":"g"},"fill":{"field":"v","type":"quantitative"}}},
{"data":{"name":"alon"},"mark":{"type":"rule","color":"#b4bab4","strokeWidth":1.5},"encoding":{"y2":{"field":"y2"}}},
{"data":{"name":"alat"},"mark":{"type":"rule","color":"#8c8c8c","strokeWidth":1},"encoding":{"x2":{"field":"x2"}}},
{"data":{"name":"aland"},"mark":{"type":"line","fill":"#505050","stroke":null,"order":null,"clip":true},"encoding":{"detail":{"field":"g"}}},
{"data":{"name":"rthick"},"mark":{"type":"line","color":"#ffffff","strokeWidth":2.5,"order":null,"clip":true},"encoding":{"detail":{"field":"g"}}},
{"data":{"name":"rthin"},"mark":{"type":"line","color":"#ffffff","strokeWidth":1,"order":null,"clip":true},"encoding":{"detail":{"field":"g"}}},
{"data":{"name":"rgray"},"mark":{"type":"line","color":"#6e6e6e","strokeWidth":1,"interpolate":"cardinal","order":null},"encoding":{}},
{"data":{"name":"redline"},"mark":{"type":"line","color":"#e0503c","strokeWidth":1,"order":null},"encoding":{}},
{"data":{"name":"towns"},"mark":{"type":"point","filled":true,"color":"#000000","size":16,"opacity":1},"encoding":{}},
{"data":{"name":"aname"},"mark":{"type":"text","color":"#ffffff","font":"Liberation Sans","fontStyle":"italic","fontSize":8.5},"encoding":{"text":{"field":"t"}}},
{"data":{"values":[{"x":-80.126,"y":-2.861,"t":"I. Puná"}]},"mark":{"type":"text","color":"#ffffff","font":"Liberation Sans","fontStyle":"italic","fontSize":8.5,"angle":310},"encoding":{"text":{"field":"t"}}},
{"data":{"values":[{"x":-79.833,"y":-3.16,"t":"Pto. Bolívar"}]},"mark":{"type":"text","color":"#ffffff","font":"Liberation Sans","fontStyle":"italic","fontSize":9,"angle":298},"encoding":{"text":{"field":"t"}}},
{"data":{"name":"fh"},"mark":{"type":"rule","color":"#d4d4d4","strokeWidth":3},"encoding":{"x2":{"field":"x2"}}},
{"data":{"name":"fv"},"mark":{"type":"rule","color":"#d4d4d4","strokeWidth":3},"encoding":{"y2":{"field":"y2"}}},
{"data":{"name":"dh"},"mark":{"type":"rule","color":"#000000","strokeWidth":4},"encoding":{"x2":{"field":"x2"}}},
{"data":{"name":"dv"},"mark":{"type":"rule","color":"#000000","strokeWidth":3},"encoding":{"y2":{"field":"y2"}}},
{"data":{"values":[{"x":-79.6025,"y":-2.49,"t":"Ocean Data View"}]},"mark":{"type":"text","color":"#333333","font":"Liberation Sans","fontStyle":"italic","fontSize":6,"angle":270},"encoding":{"text":{"field":"t"}}},
{"data":{"values":[{"x":-79.575,"y":-1.508}]},"mark":{"type":"point","shape":"triangle-up","filled":true,"color":"#ee5585","size":70,"opacity":1},"encoding":{}},
{"data":{"values":[{"x":-79.575,"y":-2.599}]},"mark":{"type":"point","shape":"triangle-down","filled":true,"color":"#f8fbe0","size":70,"opacity":1},"encoding":{}},
{"data":{"values":[{"x":-81.172,"y":-1.312,"t":"a"}]},"mark":{"type":"text","color":"#000000","font":"Liberation Sans","fontWeight":"bold","fontSize":24},"encoding":{"text":{"field":"t"}}}
]},
{"width":573,"height":561,
"encoding":{"x":{"field":"x","type":"quantitative","title":"Transecta","scale":{"domain":[1,11],"nice":false,"zero":false},"axis":{"values":[1,2,3,4,5,6,7,8,9,10,11],"format":"d","ticks":false,"domain":false,"grid":false,"labelFont":"Liberation Sans","labelFontStyle":"italic","labelFontWeight":"bold","labelFontSize":13,"labelColor":"#111","labelPadding":14,"titleFont":"Liberation Sans","titleFontStyle":"italic","titleFontWeight":"normal","titleFontSize":20,"titleColor":"#111","titlePadding":22}},
"y":{"field":"y","type":"quantitative","title":"z cardumen","scale":{"domain":[-15.76,300],"reverse":true,"nice":false,"zero":false},"axis":{"values":[0,50,100,150,200,250,300],"format":"d","ticks":true,"tickSize":3,"tickColor":"#555555","domain":false,"grid":false,"labelFont":"Liberation Sans","labelFontStyle":"italic","labelFontWeight":"bold","labelFontSize":12,"labelColor":"#111","labelPadding":3,"titleFont":"Liberation Sans","titleFontStyle":"italic","titleFontWeight":"bold","titleFontSize":24,"titleColor":"#111","titleX":-35,"titleY":295}}},
"layer":[
{"data":{"name":"bp"},"mark":{"type":"line","interpolate":"cardinal-closed","tension":-0.66,"fill":"#fbffe8","stroke":null,"order":null,"clip":true},"encoding":{"detail":{"field":"g"}}},
{"data":{"name":"bpoly"},"mark":{"type":"line","stroke":null,"order":null,"clip":true},"encoding":{"detail":{"field":"g"},"fill":{"field":"v","type":"quantitative","scale":{"domain":[-3,20,45,90,110,135,180,205,241],"range":["#fbffe8","#fffad0","#fff0a0","#fdc868","#fb9a38","#f0681c","#e44b1d","#e34a3c","#ee5585"]},"legend":{"title":null,"orient":"none","legendX":581,"legendY":25,"gradientLength":530,"gradientThickness":11,"values":[0,45,90,135,180,236],"labelExpr":"datum.value>200?'>226':datum.label","labelFont":"Liberation Sans","labelFontWeight":"bold","labelFontSize":10,"labelColor":"#111","labelOverlap":false,"gradientStrokeWidth":0,"labelOffset":1}}}},
{"data":{"name":"bh"},"mark":{"type":"line","interpolate":"cardinal-closed","tension":-0.66,"stroke":null,"order":null,"clip":true},"encoding":{"detail":{"field":"g"},"fill":{"field":"v","type":"quantitative"}}},
{"data":{"name":"bvert"},"mark":{"type":"rule","color":"#aaaaaa","strokeWidth":1},"encoding":{"y2":{"field":"y2"}}},
{"data":{"name":"bhor"},"mark":{"type":"rule","color":"#8c8c8c","strokeWidth":1},"encoding":{"x2":{"field":"x2"}}},
{"data":{"name":"bedgev"},"mark":{"type":"rule","color":"#555555","strokeWidth":2},"encoding":{"y2":{"field":"y2"}}},
{"data":{"name":"bedgeh"},"mark":{"type":"rule","color":"#000000","strokeWidth":3},"encoding":{"x2":{"field":"x2"}}},
{"data":{"name":"bname"},"mark":{"type":"text","color":"#111111","font":"Liberation Sans","fontWeight":"bold","fontSize":13},"encoding":{"text":{"field":"t"}}},
{"data":{"values":[{"x":11.244,"y":-3.4}]},"mark":{"type":"point","shape":"triangle-up","filled":true,"color":"#ee5585","size":70,"opacity":1},"encoding":{}},
{"data":{"values":[{"x":11.244,"y":296.6}]},"mark":{"type":"point","shape":"triangle-down","filled":true,"color":"#f8fbe0","size":70,"opacity":1},"encoding":{}},
{"data":{"values":[{"x":11.12,"y":264,"t":"Ocean Data View"}]},"mark":{"type":"text","color":"#333333","font":"Liberation Sans","fontStyle":"italic","fontSize":8,"angle":270},"encoding":{"text":{"field":"t"}}},
{"data":{"values":[{"x":1.52,"y":-42.2,"t":"b"}]},"mark":{"type":"text","color":"#000000","font":"Liberation Sans","fontWeight":"bold","fontSize":24},"encoding":{"text":{"field":"t"}}}
]}
]}
